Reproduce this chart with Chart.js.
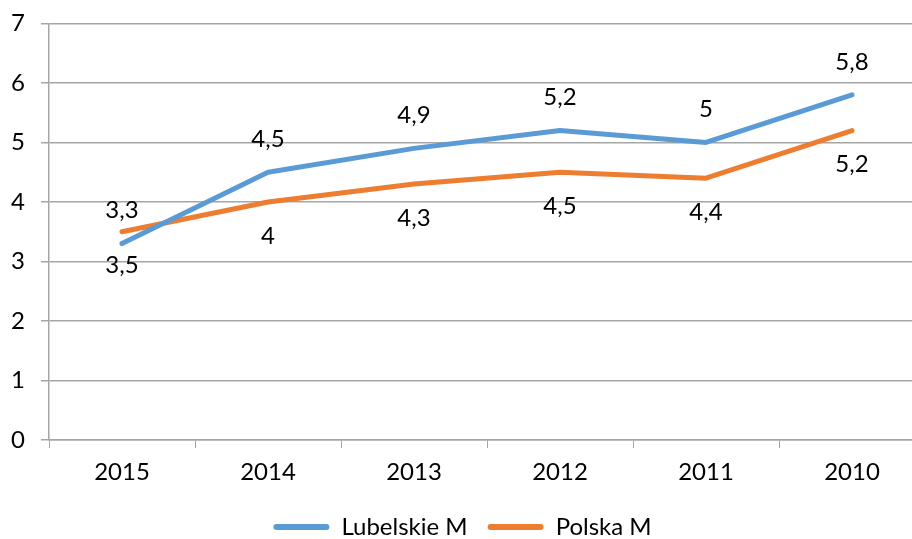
<!DOCTYPE html>
<html>
<head>
<meta charset="utf-8">
<script src="https://cdn.jsdelivr.net/npm/chart.js@4/dist/chart.umd.min.js"></script>
<style>
  html, body { margin: 0; padding: 0; background: #fff; overflow: hidden; }
  #wrap { width: 930px; height: 556px; margin-top: -7px; }
</style>
</head>
<body>
<div id="wrap"><canvas id="chart" width="930" height="556"></canvas></div>
<script>
// dane z wykresu
const years = ['2015', '2014', '2013', '2012', '2011', '2010'];
const lubelskieM = [3.3, 4.5, 4.9, 5.2, 5, 5.8];
const polskaM = [3.5, 4, 4.3, 4.5, 4.4, 5.2];
const seriesNames = ['Lubelskie M', 'Polska M'];
const seriesColors = ['#5b9bd5', '#ed7d31'];

const FONT = 'Lato, "Open Sans", sans-serif';
const FSIZE = 24;

// etykiety wartości: niebieska nad punktem, pomarańczowa pod punktem
const valueLabels = {
    id: 'valueLabels',
    afterDatasetsDraw(chart) {
        const ctx = chart.ctx;
        ctx.save();
        ctx.font = FSIZE + 'px ' + FONT;
        ctx.fillStyle = '#000';
        ctx.textAlign = 'center';
        ctx.textBaseline = 'middle';
        chart.data.datasets.forEach((ds, i) => {
            const meta = chart.getDatasetMeta(i);
            meta.data.forEach((pt, j) => {
                const txt = String(ds.data[j]).replace('.', ',');
                const dy = i === 0 ? -33 : 34;
                ctx.fillText(txt, pt.x, pt.y + dy);
            });
        });
        ctx.restore();
    }
};

const ctx = document.getElementById('chart').getContext('2d');
new Chart(ctx, {
    type: 'line',
    data: {
        labels: years,
        datasets: [
            {
                label: seriesNames[0],
                data: lubelskieM,
                borderColor: seriesColors[0],
                backgroundColor: seriesColors[0],
                borderWidth: 5,
                pointRadius: 0,
                borderCapStyle: 'round',
                borderJoinStyle: 'round',
                tension: 0
            },
            {
                label: seriesNames[1],
                data: polskaM,
                borderColor: seriesColors[1],
                backgroundColor: seriesColors[1],
                borderWidth: 5,
                pointRadius: 0,
                borderCapStyle: 'round',
                borderJoinStyle: 'round',
                tension: 0
            }
        ]
    },
    options: {
        responsive: false,
        animation: false,
        layout: { autoPadding: false, padding: { top: 17, left: 0, right: 5, bottom: 0 } },
        plugins: {
            tooltip: { enabled: false },
            legend: {
                position: 'bottom',
                labels: {
                    font: { family: FONT, size: FSIZE },
                    color: '#000',
                    boxWidth: 56,
                    boxHeight: 6,
                    padding: 20,
                    useBorderRadius: true,
                    borderRadius: 3,
                    generateLabels(chart) {
                        return chart.data.datasets.map((ds, i) => ({
                            text: ds.label,
                            fillStyle: ds.borderColor,
                            strokeStyle: ds.borderColor,
                            lineWidth: 0,
                            borderRadius: 3,
                            datasetIndex: i
                        }));
                    }
                }
            }
        },
        scales: {
            x: {
                offset: true,
                grid: {
                    offset: true,
                    drawOnChartArea: false,
                    drawTicks: true,
                    tickLength: 8,
                    color: '#a6a6a6'
                },
                border: { color: '#a6a6a6', width: 1.5 },
                ticks: {
                    font: { family: FONT, size: FSIZE },
                    color: '#000',
                    padding: 10,
                    maxRotation: 0
                },
                afterFit(scale) { scale.height = 55; }
            },
            y: {
                min: 0,
                max: 7,
                grid: {
                    color: '#a6a6a6',
                    lineWidth: 1.5,
                    tickLength: 8
                },
                border: { color: '#a6a6a6', width: 1.5 },
                ticks: {
                    stepSize: 1,
                    font: { family: FONT, size: FSIZE },
                    color: '#000',
                    padding: 16
                },
                afterFit(scale) { scale.width = 49; }
            }
        }
    },
    plugins: [valueLabels]
});
</script>
</body>
</html>
